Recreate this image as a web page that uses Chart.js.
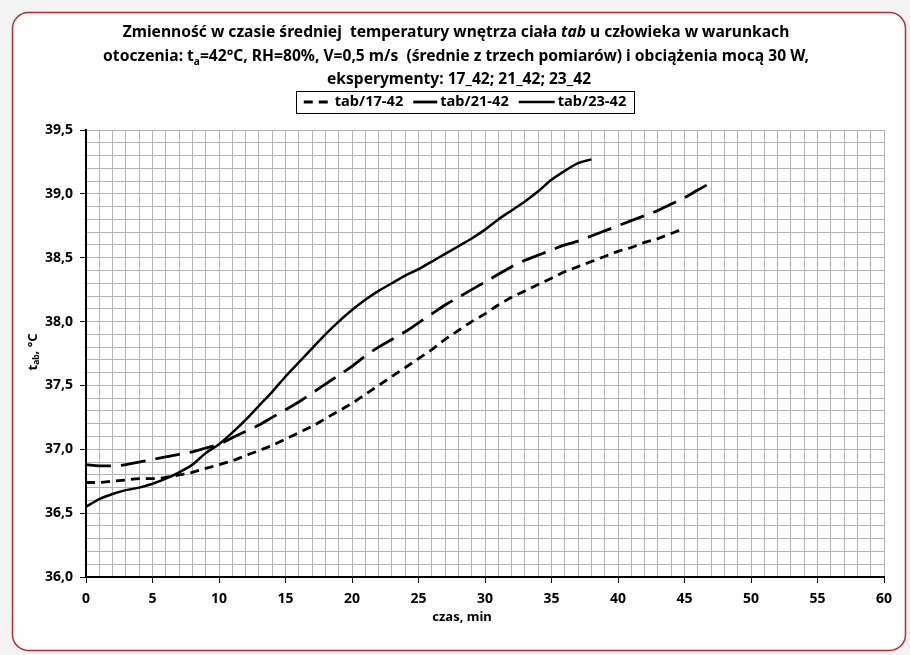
<!DOCTYPE html>
<html>
<head>
<meta charset="utf-8">
<script src="https://cdn.jsdelivr.net/npm/chart.js@4.4.1/dist/chart.umd.min.js"></script>
<style>
  html, body { margin: 0; padding: 0; background: #f3f3f3; }
  #wrap { width: 910px; height: 655px; }
</style>
</head>
<body>
<div id="wrap"><canvas id="chart" width="910" height="655"></canvas></div>
<script>
// czas, min
const minutes17 = [0, 1, 2, 3, 4, 5, 6, 7, 8, 9, 10, 11, 12, 13, 14, 15, 16, 17, 18, 19, 20, 21, 22, 23,
    24, 25, 26, 27, 28, 29, 30, 31, 32, 33, 34, 35, 36, 37, 38, 39, 40, 41, 42, 43, 44, 45];
const minutes21 = [0, 1, 2, 3, 4, 5, 6, 7, 8, 9, 10, 11, 12, 13, 14, 15, 16, 17, 18, 19, 20, 21, 22, 23,
    24, 25, 26, 27, 28, 29, 30, 31, 32, 33, 34, 35, 36, 37, 38, 39, 40, 41, 42, 43, 44, 45, 46, 46.7];
const minutes23 = [0, 1, 2, 3, 4, 5, 6, 7, 8, 9, 10, 11, 12, 13, 14, 15, 16, 17, 18, 19, 20, 21, 22, 23,
    24, 25, 26, 27, 28, 29, 30, 31, 32, 33, 34, 35, 36, 37, 38];

// t_ab, °C
const tab17 = [36.74, 36.74, 36.75, 36.76, 36.77, 36.77, 36.78, 36.80, 36.82, 36.85, 36.88, 36.91,
    36.95, 36.99, 37.03, 37.08, 37.13, 37.18, 37.24, 37.30, 37.36, 37.43, 37.50, 37.57, 37.64, 37.71,
    37.78, 37.86, 37.93, 38.00, 38.06, 38.13, 38.19, 38.24, 38.29, 38.34, 38.39, 38.43, 38.47, 38.51,
    38.55, 38.58, 38.62, 38.65, 38.69, 38.73];
const tab21 = [36.88, 36.87, 36.87, 36.88, 36.90, 36.92, 36.94, 36.96, 36.98, 37.01, 37.04, 37.09,
    37.14, 37.19, 37.25, 37.31, 37.37, 37.44, 37.51, 37.58, 37.65, 37.73, 37.80, 37.86, 37.92, 37.99,
    38.06, 38.13, 38.19, 38.25, 38.31, 38.37, 38.43, 38.48, 38.52, 38.56, 38.60, 38.63, 38.67, 38.71,
    38.75, 38.79, 38.83, 38.87, 38.92, 38.97, 39.03, 39.07];
const tab23 = [36.55, 36.61, 36.65, 36.68, 36.70, 36.73, 36.77, 36.82, 36.88, 36.97, 37.04, 37.13,
    37.23, 37.34, 37.45, 37.57, 37.68, 37.79, 37.90, 38.00, 38.09, 38.17, 38.24, 38.30, 38.36, 38.41,
    38.47, 38.53, 38.59, 38.65, 38.72, 38.80, 38.87, 38.94, 39.02, 39.11, 39.18, 39.24, 39.27];

const seriesLabels = ["tab/17-42", "tab/21-42", "tab/23-42"];

const FONT = '"Liberation Sans Narrow", "Noto Sans", sans-serif';

function pts(xs, ys) {
    return xs.map((x, i) => ({ x: x, y: ys[i] }));
}

function drawRich(ctx, segs, cx, cy, size) {
    let w = 0;
    segs.forEach(s => {
        ctx.font = (s.italic ? "italic " : "") + "bold " + (s.sub ? size * 0.65 : size) + "px " + FONT;
        s.w = ctx.measureText(s.t).width;
        w += s.w;
    });
    let x = cx - w / 2;
    ctx.textBaseline = "middle";
    ctx.textAlign = "left";
    segs.forEach(s => {
        ctx.font = (s.italic ? "italic " : "") + "bold " + (s.sub ? size * 0.65 : size) + "px " + FONT;
        ctx.fillText(s.t, x, cy + (s.sub ? size * 0.3 : 0));
        x += s.w;
    });
    return w;
}

const title = [
    [{ t: "Zmienność w czasie średniej  temperatury wnętrza ciała " }, { t: "tab", italic: true }, { t: " u człowieka w warunkach" }],
    [{ t: "otoczenia: t" }, { t: "a", sub: true }, { t: "=42°C, RH=80%, V=0,5 m/s  (średnie z trzech pomiarów) i obciążenia mocą 30 W," }],
    [{ t: "eksperymenty: 17_42; 21_42; 23_42" }]
];

const decor = {
    id: "decor",
    beforeDraw(chart) {
        const ctx = chart.ctx;
        ctx.save();
        ctx.fillStyle = "#f3f3f3";
        ctx.fillRect(0, 0, chart.width, chart.height);
        ctx.beginPath();
        ctx.roundRect(12.5, 12.5, 893, 638, 16);
        ctx.fillStyle = "#ffffff";
        ctx.fill();
        ctx.strokeStyle = "#c0282d";
        ctx.lineWidth = 1.5;
        ctx.stroke();
        ctx.restore();
    },
    afterDraw(chart) {
        const ctx = chart.ctx;
        ctx.save();
        ctx.fillStyle = "#000";
        // fit title size to reference width of the second line
        ctx.font = "bold 100px " + FONT;
        const ref = ctx.measureText(title[1][0].t + title[1][2].t).width;
        const size = Math.min(16, 100 * 700 / ref);
        drawRich(ctx, title[0], 456, 33, size);
        drawRich(ctx, title[1], 456, 57, size);
        drawRich(ctx, title[2], 459, 80, size);

        // legend
        ctx.strokeStyle = "#000";
        ctx.lineWidth = 1;
        ctx.strokeRect(296.5, 91.5, 338, 22);
        const ds = chart.data.datasets;
        const sampleW = [28, 24, 36];
        ctx.font = "bold " + (size - 1) + "px " + FONT;
        let total = 0;
        const tw = ds.map(d => ctx.measureText(d.label).width);
        ds.forEach((d, i) => { total += sampleW[i] + 3 + tw[i]; });
        total += 2 * 10;
        let x = 465 - total / 2;
        ds.forEach((d, i) => {
            ctx.beginPath();
            ctx.setLineDash(d.borderDash || []);
            ctx.lineWidth = d.borderWidth;
            ctx.moveTo(x, 102);
            ctx.lineTo(x + sampleW[i], 102);
            ctx.stroke();
            ctx.setLineDash([]);
            x += sampleW[i] + 3;
            ctx.textBaseline = "middle";
            ctx.textAlign = "left";
            ctx.fillText(d.label, x, 102);
            x += tw[i] + 10;
        });

        // y axis title with subscript
        ctx.translate(33, 352);
        ctx.rotate(-Math.PI / 2);
        drawRich(ctx, [{ t: "t" }, { t: "ab", sub: true }, { t: ", °C" }], 0, 0, 13);
        ctx.restore();

        ctx.save();
        ctx.font = "bold 13px " + FONT;
        ctx.textAlign = "center";
        ctx.textBaseline = "middle";
        ctx.fillStyle = "#000";
        ctx.fillText("czas, min", 462, 617);
        ctx.restore();
    }
};

const tickFont = { family: FONT, size: 14, weight: "bold" };

new Chart(document.getElementById("chart"), {
    type: "line",
    data: {
        datasets: [
            {
                label: seriesLabels[0], data: pts(minutes17, tab17),
                borderColor: "#000", borderWidth: 2.8, borderDash: [9, 6],
                pointRadius: 0, cubicInterpolationMode: "monotone", fill: false
            },
            {
                label: seriesLabels[1], data: pts(minutes21, tab21),
                borderColor: "#000", borderWidth: 2.8, borderDash: [25, 10],
                pointRadius: 0, cubicInterpolationMode: "monotone", fill: false
            },
            {
                label: seriesLabels[2], data: pts(minutes23, tab23),
                borderColor: "#000", borderWidth: 2.5,
                pointRadius: 0, cubicInterpolationMode: "monotone", fill: false
            }
        ]
    },
    options: {
        responsive: false,
        animation: false,
        events: [],
        layout: { padding: { top: 130, right: 26, left: 0, bottom: 0 } },
        plugins: { legend: { display: false }, title: { display: false }, tooltip: { enabled: false } },
        scales: {
            x: {
                type: "linear", min: 0, max: 60,
                afterFit: s => { s.height = 78; },
                border: { color: "#000", width: 2 },
                grid: {
                    color: "#b4b4b4", lineWidth: 1, tickLength: 6,
                    tickColor: c => (c.tick && Math.round(c.tick.value) % 5 === 0 ? "#000" : "rgba(0,0,0,0)")
                },
                ticks: {
                    stepSize: 1, autoSkip: false, maxRotation: 0, padding: 8,
                    color: "#000", font: tickFont,
                    callback: v => (Math.round(v) % 5 === 0 ? String(Math.round(v)) : "")
                }
            },
            y: {
                type: "linear", min: 36, max: 39.5,
                afterFit: s => { s.width = 86; },
                border: { color: "#000", width: 2 },
                grid: {
                    color: "#b4b4b4", lineWidth: 1, tickLength: 6,
                    tickColor: c => (c.tick && Math.round(c.tick.value * 10) % 5 === 0 ? "#000" : "rgba(0,0,0,0)")
                },
                ticks: {
                    stepSize: 0.1, autoSkip: false, padding: 7,
                    color: "#000", font: tickFont,
                    callback: v => {
                        const r = Math.round(v * 10);
                        return r % 5 === 0 ? (r / 10).toFixed(1).replace(".", ",") : "";
                    }
                }
            }
        }
    },
    plugins: [decor]
});
</script>
</body>
</html>
